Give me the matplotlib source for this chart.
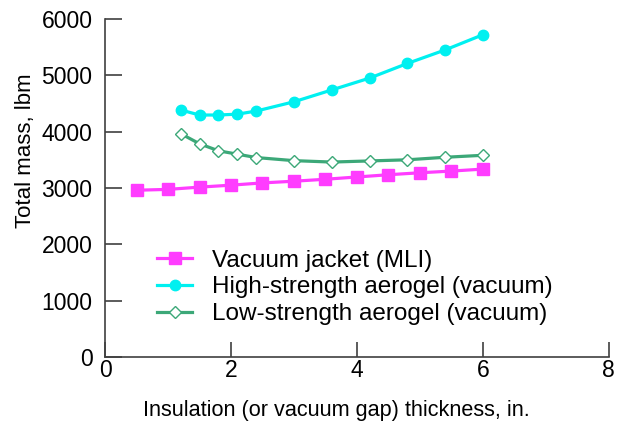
import matplotlib
matplotlib.use("Agg")
from matplotlib import pyplot as plt

plt.rcParams['font.family'] = ['Liberation Sans', 'DejaVu Sans']

# insulation thickness, in.
x_mli = [0.5, 1.0, 1.5, 2.0, 2.5, 3.0, 3.5, 4.0, 4.5, 5.0, 5.5, 6.0]
x_aerogel = [1.2, 1.5, 1.8, 2.1, 2.4, 3.0, 3.6, 4.2, 4.8, 5.4, 6.0]

# total mass, lbm
mass_mli = [2960, 2975, 3015, 3050, 3090, 3120, 3155, 3195, 3235, 3270, 3300, 3335]
mass_high = [4385, 4295, 4295, 4310, 4365, 4530, 4740, 4950, 5210, 5450, 5720]
mass_low = [3965, 3785, 3660, 3600, 3540, 3485, 3460, 3480, 3500, 3545, 3580]

labels = ["Vacuum jacket (MLI)",
          "High-strength aerogel (vacuum)",
          "Low-strength aerogel (vacuum)"]

fig = plt.figure(figsize=(6.29, 4.21), dpi=100)
ax = fig.add_axes([0.167, 0.152, 0.801, 0.803])

ax.plot(x_mli, mass_mli, color="#ff3cff", linewidth=2.3, marker="s",
        markersize=8, label=labels[0])
ax.plot(x_aerogel, mass_high, color="#00f0f0", linewidth=2.3, marker="o",
        markersize=7.5, label=labels[1])
ax.plot(x_aerogel, mass_low, color="#3ca878", linewidth=2.3, marker="D",
        markersize=6, markerfacecolor="white", markeredgewidth=1.0,
        label=labels[2])

ax.set_xlim(0, 8)
ax.set_ylim(0, 6000)
ax.set_xticks([0, 2, 4, 6, 8])
ax.set_yticks(range(0, 6001, 1000))

for side in ["top", "right"]:
    ax.spines[side].set_visible(False)
for side in ["left", "bottom"]:
    ax.spines[side].set_color("#404040")
    ax.spines[side].set_linewidth(1.2)

ax.tick_params(axis="y", direction="in", length=12, width=1.2,
               color="#404040", labelsize=16.5, pad=9)
ax.tick_params(axis="x", direction="in", length=11, width=1.2,
               color="#404040", labelsize=16.5, pad=1.5)

ax.set_xlabel("Insulation (or vacuum gap) thickness, in.", fontsize=15.6)
ax.set_ylabel("Total mass, lbm", fontsize=16)
ax.xaxis.set_label_coords(0.46, -0.128)
ax.yaxis.set_label_coords(-0.137, 0.61)

ax.legend(loc="upper left", bbox_to_anchor=(0.103, 0.318), frameon=False,
          fontsize=17.5, handlelength=1.45, handletextpad=0.8,
          labelspacing=0.2, borderaxespad=0, borderpad=0)

fig.savefig("out.png", dpi=100)
